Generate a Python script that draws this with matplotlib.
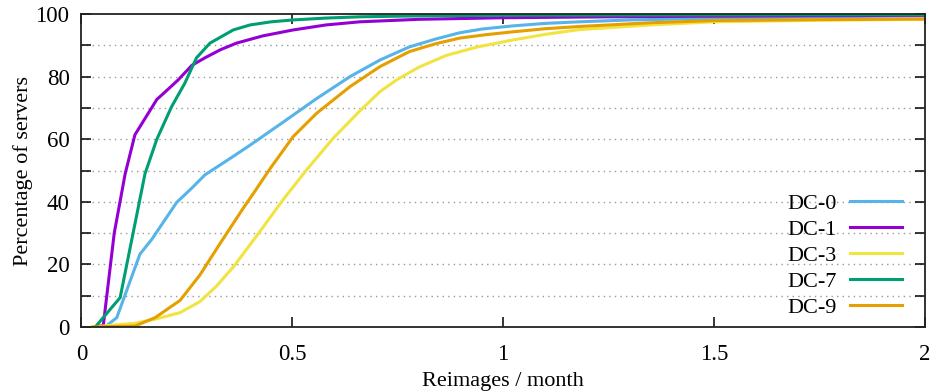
import matplotlib
matplotlib.use("Agg")
import matplotlib.pyplot as plt
from matplotlib.ticker import MultipleLocator

plt.rcParams['font.family'] = ['Liberation Serif', 'DejaVu Serif']

# reimages per month (x) vs cumulative percentage of servers (y)
x_dc0 = [0.056, 0.084, 0.139, 0.167, 0.226, 0.262, 0.293, 0.36, 0.4, 0.479, 0.558, 0.637,
         0.708, 0.778, 0.84, 0.897, 0.95, 1.023, 1.1, 1.18, 1.3, 1.5, 1.75, 2.0]
y_dc0 = [0, 3, 23.3, 28, 39.8, 44.4, 48.6, 54.5, 58.1, 65.5, 73, 80,
         85.3, 89.5, 92, 94, 95.2, 96.2, 97, 97.5, 98.1, 98.6, 99.1, 99.4]

x_dc1 = [0.033, 0.052, 0.078, 0.104, 0.127, 0.179, 0.206, 0.23, 0.262, 0.293, 0.33,
         0.368, 0.43, 0.502, 0.58, 0.66, 0.8, 1.0, 1.25, 1.5, 2.0]
y_dc1 = [0, 0.5, 30, 49, 61.4, 72.7, 76, 79, 83.6, 86, 88.6,
         90.7, 93, 94.9, 96.5, 97.5, 98.3, 98.8, 99.1, 99.3, 99.6]

x_dc3 = [0.025, 0.127, 0.175, 0.234, 0.281, 0.32, 0.361, 0.42, 0.479, 0.534, 0.597, 0.66,
         0.708, 0.748, 0.8, 0.866, 0.94, 1.023, 1.1, 1.18, 1.35, 1.5, 1.75, 2.0]
y_dc3 = [0, 1.2, 2.5, 4.6, 8.1, 13, 19.3, 29.9, 40.8, 50.2, 60.3, 69,
         75.2, 79, 83, 86.8, 89.5, 91.7, 93.5, 95, 96.5, 97.5, 98, 98.3]

x_dc7 = [0.033, 0.092, 0.151, 0.179, 0.214, 0.245, 0.273, 0.305, 0.36, 0.4, 0.45,
         0.502, 0.58, 0.66, 0.8, 1.0, 1.5, 2.0]
y_dc7 = [0, 9.4, 49, 60, 70.4, 77.8, 86, 90.7, 94.9, 96.5, 97.5,
         98.1, 98.7, 99.1, 99.4, 99.6, 99.7, 99.8]

x_dc9 = [0.028, 0.127, 0.175, 0.234, 0.281, 0.329, 0.384, 0.408, 0.447, 0.502, 0.558, 0.637,
         0.708, 0.778, 0.84, 0.897, 0.96, 1.023, 1.1, 1.18, 1.35, 1.5, 1.75, 2.0]
y_dc9 = [0, 0.3, 3, 8.5, 16.6, 26.7, 38, 42.7, 50.5, 60.8, 68.3, 76.8,
         83.2, 88, 90.5, 92.3, 93.4, 94.3, 95.3, 96, 97.2, 97.9, 98.2, 98.4]

fig = plt.figure(figsize=(9.36, 3.92), dpi=100)
ax = fig.add_axes([0.0869, 0.1658, 0.9013, 0.7985])

ax.plot(x_dc0, y_dc0, color='#56b4e9', lw=2.2, label='DC-0')
ax.plot(x_dc1, y_dc1, color='#9400d3', lw=2.2, label='DC-1')
ax.plot(x_dc3, y_dc3, color='#f0e442', lw=2.2, label='DC-3')
ax.plot(x_dc7, y_dc7, color='#009e73', lw=2.2, label='DC-7')
ax.plot(x_dc9, y_dc9, color='#e69f00', lw=2.2, label='DC-9')

ax.set_xlim(0, 2)
ax.set_ylim(0, 100)
ax.set_xticks([0, 0.5, 1, 1.5, 2])
ax.set_xticklabels(['0', '0.5', '1', '1.5', '2'])
ax.yaxis.set_major_locator(MultipleLocator(20))
ax.yaxis.set_minor_locator(MultipleLocator(10))

ax.tick_params(axis='both', which='both', direction='in', top=True, right=True,
               length=7, width=1.1, labelsize=16.5)
ax.tick_params(axis='x', pad=12.5)
ax.tick_params(axis='y', pad=8.5)

for yv in range(10, 100, 10):
    ax.axhline(yv, color='#999999', lw=1, ls=(0, (1, 3)), zorder=0)

for s in ax.spines.values():
    s.set_linewidth(1.3)
    s.set_color('#222222')

ax.set_xlabel('Reimages / month', fontsize=16, labelpad=5)
ax.set_ylabel('Percentage of servers', fontsize=16, labelpad=2)

ax.legend(loc='lower right', bbox_to_anchor=(0.973, 0.03), frameon=False,
          markerfirst=False, fontsize=16, handlelength=2.35, handletextpad=0.6,
          labelspacing=0.24, borderpad=0, borderaxespad=0)

fig.savefig('out.png', dpi=100)
